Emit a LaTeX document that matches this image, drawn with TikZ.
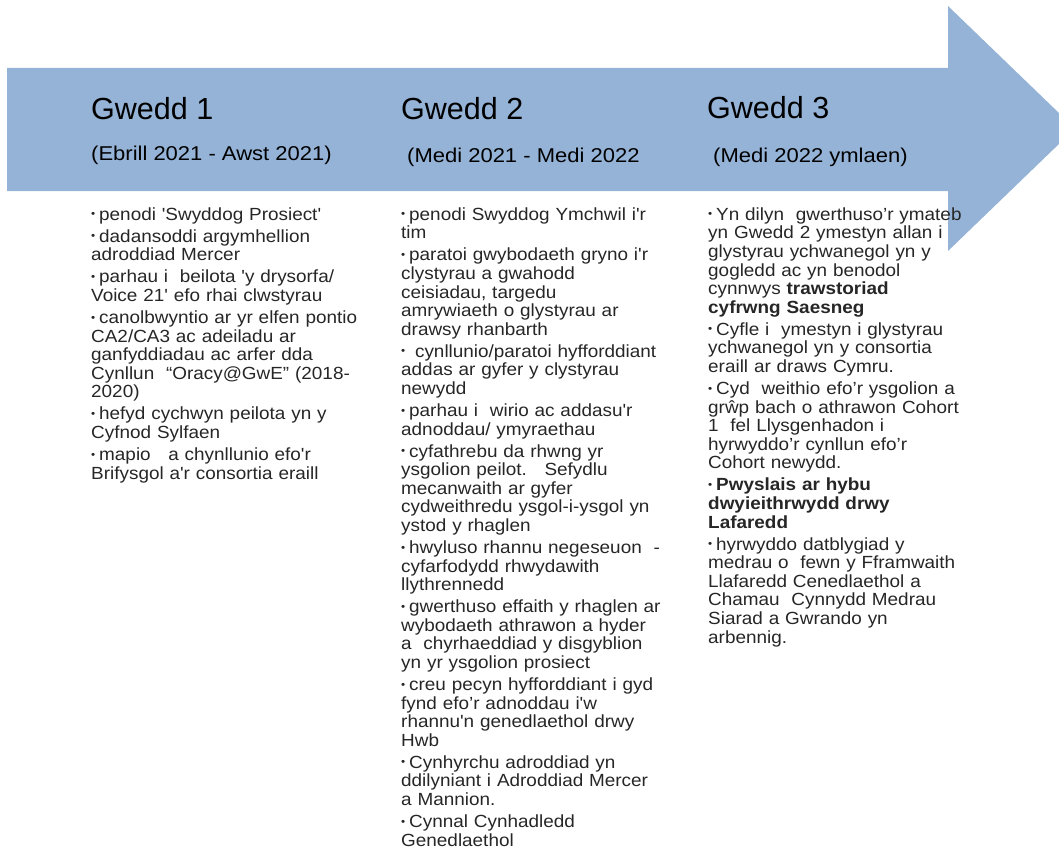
\documentclass[tikz,border=0pt]{standalone}
\usepackage{fontspec}
\setmainfont{Liberation Sans}[Ligatures=TeXOff]
\newfontfamily\bodyfont{Liberation Sans}[Ligatures=TeXOff, FakeStretch=1.075]
\newfontfamily\datefont{Liberation Sans}[Ligatures=TeXOff, FakeStretch=1.1]
\usepackage{graphicx}
\definecolor{arrowblue}{HTML}{95B3D7}
\definecolor{bodytext}{HTML}{262626}
\newcommand{\pitem}[1]{\par\parskip=3.4pt\hangindent=8pt\hangafter=1\noindent
  \makebox[8pt][l]{\raisebox{2.4pt}{\scalebox{.62}{•}}}#1\par}
\tikzset{
  phase/.style={anchor=base west, inner sep=0pt, font=\fontsize{30.5pt}{34pt}\selectfont},
  period/.style={anchor=base west, inner sep=0pt, font=\datefont\fontsize{20pt}{22pt}\selectfont},
  bullets/.style={anchor=north west, inner sep=0pt, text width=330pt, align=left,
    text=bodytext, font=\bodyfont\fontsize{17.6pt}{18.6pt}\selectfont}
}

\begin{document}
\begin{tikzpicture}[x=1pt, y=-1pt]
  \useasboundingbox (0,0) rectangle (1059,848);
  \clip (0,0) rectangle (1059,848);
  % timeline arrow
  \fill[arrowblue] (7,68) -- (948,68) -- (948,6) -- (1075,128.5)
    -- (948,251) -- (948,191) -- (7,191) -- cycle;

  \node[phase] (h1) at (91,120) {Gwedd 1};
  \node[phase] (h2) at (401,120) {Gwedd 2};
  \node[phase] (h3) at (707,118) {Gwedd 3};

  \node[period] (d1) at (91,160) {(Ebrill 2021 - Awst 2021)};
  \node[period] (d2) at (407,162) {(Medi 2021 - Medi 2022};
  \node[period] (d3) at (713,162) {(Medi 2022 ymlaen)};

  \node[bullets] (l1) at (91,198) {%
    \pitem{penodi 'Swyddog Prosiect'}
    \pitem{dadansoddi argymhellion\\adroddiad Mercer}
    \pitem{parhau i\ \ beilota 'y drysorfa/\\Voice 21' efo rhai clwstyrau}
    \pitem{canolbwyntio ar yr elfen pontio\\CA2/CA3 ac adeiladu ar\\ganfyddiadau ac arfer dda\\Cynllun\ \ “Oracy@GwE” (2018-\\2020)}
    \pitem{hefyd cychwyn peilota yn y\\Cyfnod Sylfaen}
    \pitem{mapio\ \ \ a chynllunio efo'r\\Brifysgol a'r consortia eraill}};

  \node[bullets] (l2) at (401,198) {%
    \pitem{penodi Swyddog Ymchwil i'r\\tim}
    \pitem{paratoi gwybodaeth gryno i'r\\clystyrau a gwahodd\\ceisiadau, targedu\\amrywiaeth o glystyrau ar\\drawsy rhanbarth}
    \pitem{\ cynllunio/paratoi hyfforddiant\\addas ar gyfer y clystyrau\\newydd}
    \pitem{parhau i\ \ wirio ac addasu'r\\adnoddau/ ymyraethau}
    \pitem{cyfathrebu da rhwng yr\\ysgolion peilot.\ \ \ Sefydlu\\mecanwaith ar gyfer\\cydweithredu ysgol-i-ysgol yn\\ystod y rhaglen}
    \pitem{hwyluso rhannu negeseuon\ \ -\\cyfarfodydd rhwydawith\\llythrennedd}
    \pitem{gwerthuso effaith y rhaglen ar\\wybodaeth athrawon a hyder\\a\ \ chyrhaeddiad y disgyblion\\yn yr ysgolion prosiect}
    \pitem{creu pecyn hyfforddiant i gyd\\fynd efo’r adnoddau i'w\\rhannu'n genedlaethol drwy\\Hwb}
    \pitem{Cynhyrchu adroddiad yn\\ddilyniant i Adroddiad Mercer\\a Mannion.}
    \pitem{Cynnal Cynhadledd\\Genedlaethol}};

  \node[bullets] (l3) at (708,198) {%
    \pitem{Yn dilyn\ \ gwerthuso’r ymateb\\yn Gwedd 2 ymestyn allan i\\glystyrau ychwanegol yn y\\gogledd ac yn benodol\\cynnwys \textbf{trawstoriad}\\\textbf{cyfrwng Saesneg}}
    \pitem{Cyfle i\ \ ymestyn i glystyrau\\ychwanegol yn y consortia\\eraill ar draws Cymru.}
    \pitem{Cyd\ \ weithio efo’r ysgolion a\\grŵp bach o athrawon Cohort\\1\ \ fel Llysgenhadon i\\hyrwyddo’r cynllun efo’r\\Cohort newydd.}
    \pitem{\textbf{Pwyslais ar hybu}\\\textbf{dwyieithrwydd drwy}\\\textbf{Lafaredd}}
    \pitem{hyrwyddo datblygiad y\\medrau o\ \ fewn y Fframwaith\\Llafaredd Cenedlaethol a\\Chamau\ \ Cynnydd Medrau\\Siarad a Gwrando yn\\arbennig.}};
\end{tikzpicture}
\end{document}
